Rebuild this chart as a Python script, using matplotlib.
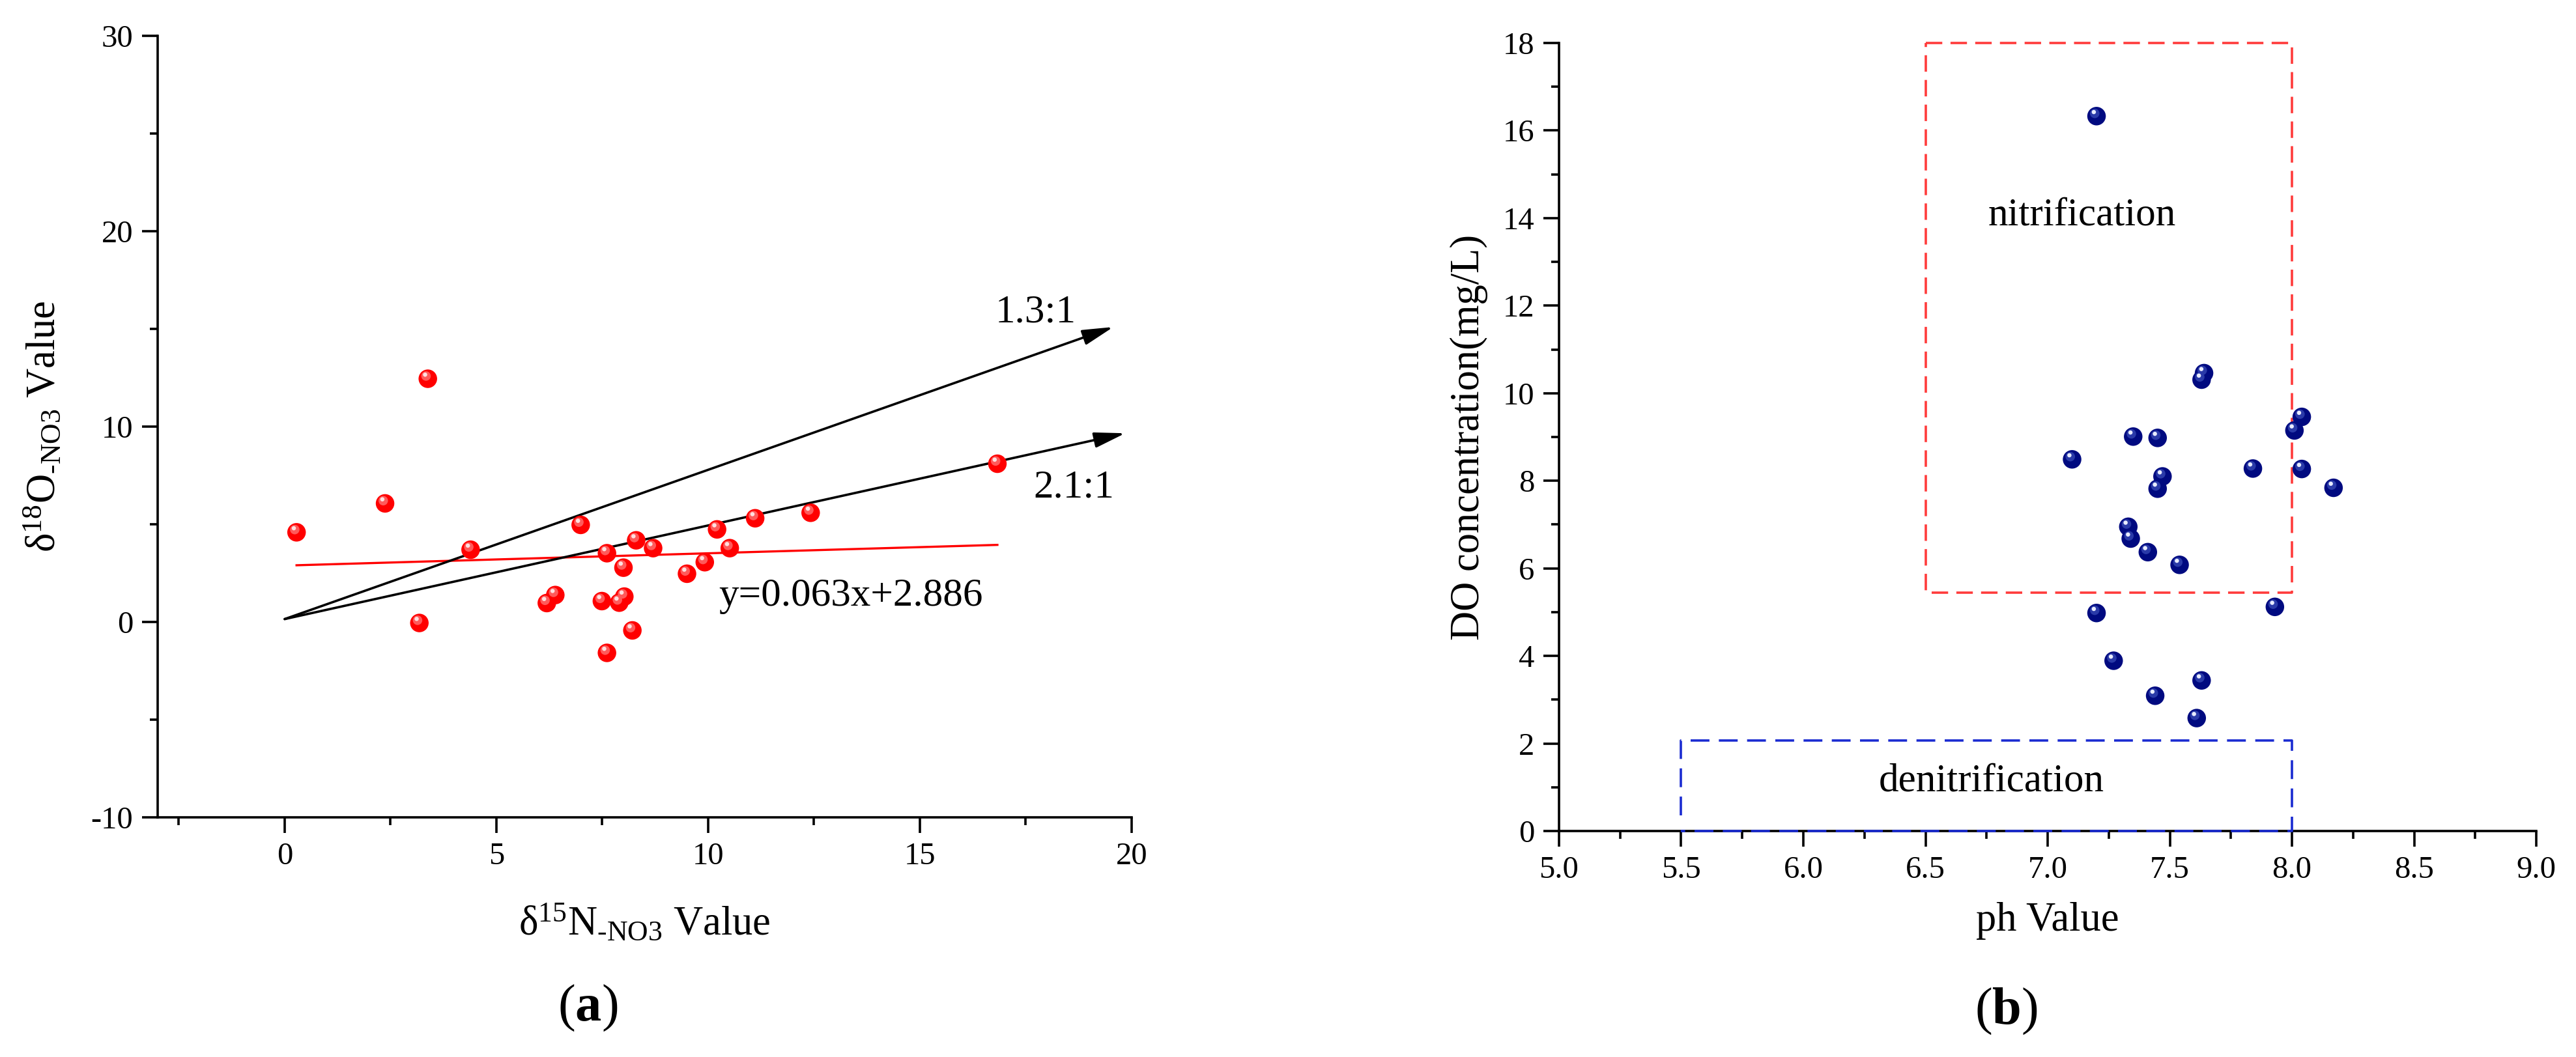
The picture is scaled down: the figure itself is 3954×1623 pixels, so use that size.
import numpy as np
import matplotlib
matplotlib.use("Agg")
import matplotlib.pyplot as plt
from matplotlib.transforms import offset_copy

plt.rcParams["font.family"] = ["Liberation Serif", "DejaVu Serif"]
plt.rcParams["mathtext.fontset"] = "custom"
plt.rcParams["mathtext.rm"] = "Liberation Serif"
plt.rcParams["mathtext.it"] = "Liberation Serif:italic"
plt.rcParams["mathtext.bf"] = "Liberation Serif:bold"
plt.rcParams["axes.unicode_minus"] = False

# panel (a): isotope values
d15n = [0.28, 2.37, 3.38, 3.18, 4.39, 6.99, 6.19, 6.39, 7.49, 7.61, 7.61, 8.00,
        7.90, 8.02, 8.21, 8.30, 8.70, 9.50, 9.92, 10.21, 10.51, 11.11, 12.42, 16.83]
d18o = [4.59, 6.07, 12.45, -0.05, 3.70, 4.97, 0.97, 1.38, 1.07, 3.52, -1.58, 2.78,
        0.99, 1.30, -0.43, 4.18, 3.78, 2.47, 3.06, 4.74, 3.78, 5.31, 5.59, 8.10]
fit_slope = 0.063
fit_icpt = 2.886
ratio_start = (0.0, 0.15)
ratio_tips = [(19.57, 15.1), (19.85, 9.66)]
ratio_labels = ["1.3:1", "2.1:1"]
ratio_label_pos = [(17.73, 15.83), (18.63, 6.89)]
fit_label_pos = (13.37, 1.33)

# panel (b): pH vs DO
ph = [7.20, 7.64, 7.63, 8.04, 8.01, 7.35, 7.45, 7.10, 7.84, 8.04, 7.47, 7.45,
      8.17, 7.33, 7.34, 7.41, 7.54, 7.20, 7.93, 7.27, 7.63, 7.44, 7.61]
do = [16.33, 10.46, 10.31, 9.46, 9.15, 9.01, 8.98, 8.49, 8.28, 8.27, 8.10, 7.82,
      7.84, 6.95, 6.68, 6.37, 6.08, 4.98, 5.12, 3.89, 3.44, 3.09, 2.58]
nitri_box = (6.5, 8.0, 5.45, 18.0)
denitri_box = (5.5, 8.0, 0.0, 2.07)
nitri_label_pos = (7.14, 14.06)
denitri_label_pos = (6.77, 1.14)

TICK = 35
LABEL = 45
NOTE = 44


def spheres(ax, x, y, base, mid, hi):
    ax.scatter(x, y, s=420, color=base, edgecolors="none", zorder=5, clip_on=False)
    t1 = offset_copy(ax.transData, fig=ax.figure, x=-2.0, y=3.0, units="points")
    ax.scatter(x, y, s=110, color=mid, edgecolors="none", zorder=6, transform=t1, clip_on=False)
    t2 = offset_copy(ax.transData, fig=ax.figure, x=-3.0, y=4.5, units="points")
    ax.scatter(x, y, s=22, color=hi, edgecolors="none", zorder=7, transform=t2, clip_on=False)


def style_axes(ax):
    for side in ["top", "right"]:
        ax.spines[side].set_visible(False)
    for side in ["left", "bottom"]:
        ax.spines[side].set_linewidth(2.6)
    ax.tick_params(which="major", direction="out", length=17, width=2.6,
                   labelsize=TICK, pad=10)
    ax.tick_params(which="minor", direction="out", length=8.5, width=2.6)


fig = plt.figure(figsize=(39.54, 16.23), dpi=100)

# ---- (a)
ax1 = fig.add_axes([0.0612, 0.2267, 0.3781, 0.7394])
style_axes(ax1)
ax1.set_xlim(-3, 20)
ax1.set_ylim(-10, 30)
ax1.set_xticks([0, 5, 10, 15, 20])
ax1.set_xticks([-2.5, 2.5, 7.5, 12.5, 17.5], minor=True)
ax1.set_yticks([-10, 0, 10, 20, 30])
ax1.set_yticks([-5, 5, 15, 25], minor=True)

fx = np.array([min(d15n), max(d15n)])
ax1.plot(fx, fit_slope * fx + fit_icpt, color="red", lw=2.4, zorder=3)

for tip in ratio_tips:
    ax1.annotate("", xy=tip, xytext=ratio_start,
                 arrowprops=dict(arrowstyle="-|>,head_length=1.45,head_width=0.36",
                                 mutation_scale=20, color="black", lw=2.6,
                                 shrinkA=0, shrinkB=0), zorder=4)
for lab, pos in zip(ratio_labels, ratio_label_pos):
    ax1.text(pos[0], pos[1], lab, fontsize=NOTE, ha="center", va="center")
ax1.text(fit_label_pos[0], fit_label_pos[1], "y=0.063x+2.886", fontsize=NOTE,
         ha="center", va="center")

spheres(ax1, d15n, d18o, "#ff0000", "#ff5a5a", "#ffe0e0")

ax1.set_xlabel("δ$^{15}$N$_{\\text{-NO3}}$ Value", fontsize=LABEL)
ax1.set_ylabel("δ$^{18}$O$_{\\text{-NO3}}$ Value", fontsize=LABEL)
ax1.xaxis.set_label_coords(0.5, -0.136)
ax1.xaxis.label.set_va("center")
ax1.yaxis.set_label_coords(-0.117, 0.5)
ax1.yaxis.label.set_va("center")

# ---- (b)
ax2 = fig.add_axes([0.6052, 0.2138, 0.3794, 0.7455])
style_axes(ax2)
ax2.set_xlim(5, 9)
ax2.set_ylim(0, 18)
ax2.set_xticks(np.arange(5.0, 9.01, 0.5))
ax2.set_xticks(np.arange(5.25, 9.0, 0.5), minor=True)
ax2.set_xticklabels([f"{v:.1f}" for v in np.arange(5.0, 9.01, 0.5)])
ax2.set_yticks(np.arange(0, 19, 2))
ax2.set_yticks(np.arange(1, 18, 2), minor=True)

x0, x1, y0, y1 = nitri_box
ax2.plot([x0, x1, x1, x0, x0], [y1, y1, y0, y0, y1], color="#ff3b3b", lw=2.6,
         dashes=(7, 3.5), zorder=3, clip_on=False)
x0, x1, y0, y1 = denitri_box
ax2.plot([x0, x0, x1, x1, x0], [y0 + 0.35, y1, y1, y0, y0], color="#1a2bd1", lw=2.6,
         dashes=(8, 4), zorder=4, clip_on=False)

ax2.text(nitri_label_pos[0], nitri_label_pos[1], "nitrification", fontsize=NOTE,
         ha="center", va="center")
ax2.text(denitri_label_pos[0], denitri_label_pos[1], "denitrification", fontsize=NOTE,
         ha="center", va="center")

spheres(ax2, ph, do, "#000a80", "#2a3aa8", "#e8ecff")

ax2.set_xlabel("ph Value", fontsize=LABEL)
ax2.set_ylabel("DO concentration(mg/L)", fontsize=LABEL)
ax2.xaxis.set_label_coords(0.5, -0.114)
ax2.xaxis.label.set_va("center")
ax2.yaxis.set_label_coords(-0.092, 0.5)
ax2.yaxis.label.set_va("center")

fig.text(902 / 3954, 1 - 1548 / 1623, "($\\mathbf{a}$)", fontsize=58, ha="center", va="center")
fig.text(3079 / 3954, 1 - 1553 / 1623, "($\\mathbf{b}$)", fontsize=58, ha="center", va="center")

fig.savefig("out.png", dpi=100)
